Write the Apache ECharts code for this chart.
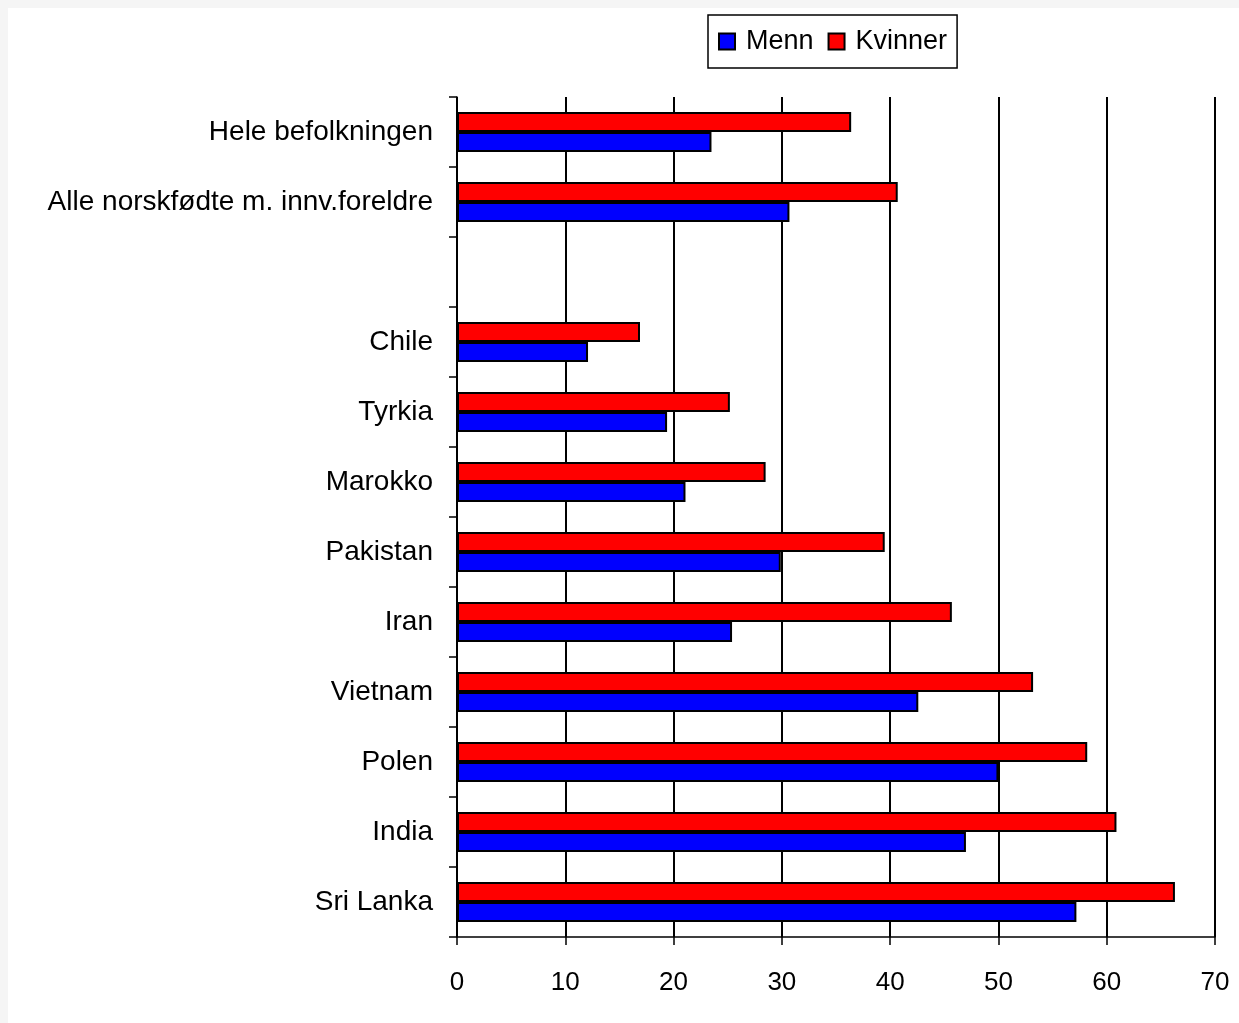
<!DOCTYPE html>
<html>
<head>
<meta charset="utf-8">
<script src="https://cdn.jsdelivr.net/npm/echarts@6/dist/echarts.min.js"></script>
<style>
  html, body { margin: 0; padding: 0; background: #f5f5f5; }
  #chart { position: absolute; left: 8px; top: 8px; width: 1231px; height: 1015px; background: #ffffff; }
</style>
</head>
<body>
<div id="chart"></div>
<script>
// Categories listed top to bottom; the empty one is a spacer row
const categories = [
  'Hele befolkningen',
  'Alle norskfødte m. innv.foreldre',
  '',
  'Chile',
  'Tyrkia',
  'Marokko',
  'Pakistan',
  'Iran',
  'Vietnam',
  'Polen',
  'India',
  'Sri Lanka'
];
const menn    = [23.5, 30.7, null, 12.1, 19.4, 21.1, 29.9, 25.4, 42.6, 50.0, 47.0, 57.2];
const kvinner = [36.4, 40.7, null, 16.9, 25.2, 28.5, 39.5, 45.7, 53.2, 58.2, 60.9, 66.3];
const xTicks = [0, 10, 20, 30, 40, 50, 60, 70];

const font = 'Liberation Sans, Arial, Helvetica, sans-serif';
const chart = echarts.init(document.getElementById('chart'));

const barStyle = (color) => ({ color: color, borderColor: '#000', borderWidth: 2 });

chart.setOption({
  backgroundColor: '#ffffff',
  animation: false,
  legend: {
    data: ['Menn', 'Kvinner'],
    left: 700, top: 7,
    orient: 'horizontal',
    borderColor: '#000', borderWidth: 1.5,
    padding: [13, 10, 13, 10],
    itemWidth: 16, itemHeight: 16, itemGap: 14,
    icon: 'rect',
    textStyle: { fontFamily: font, fontSize: 27, color: '#000', padding: [0, 0, 0, 6] }
  },
  grid: { left: 449, right: 24, top: 89, bottom: 86, containLabel: false },
  xAxis: {
    type: 'value',
    min: xTicks[0], max: xTicks[xTicks.length - 1], interval: 10,
    axisLine: { show: true, lineStyle: { color: '#000', width: 1.5 } },
    axisTick: { show: true, length: 8, lineStyle: { color: '#000', width: 1.5 } },
    axisLabel: { fontFamily: font, fontSize: 26, color: '#000', margin: 33 },
    splitLine: { show: true, lineStyle: { color: '#000', width: 2 } }
  },
  yAxis: {
    type: 'category',
    data: categories,
    inverse: true,
    axisLine: { show: true, lineStyle: { color: '#000', width: 1.5 } },
    axisTick: { show: true, length: 8, lineStyle: { color: '#000', width: 1.5 } },
    axisLabel: { fontFamily: font, fontSize: 28, color: '#000', margin: 24 },
    splitLine: { show: false }
  },
  series: [
    { name: 'Kvinner', type: 'bar', data: kvinner, barWidth: 20, barGap: '0%', itemStyle: barStyle('#ff0000') },
    { name: 'Menn', type: 'bar', data: menn, barWidth: 20, barGap: '0%', itemStyle: barStyle('#0000ff') }
  ]
});
</script>
</body>
</html>
